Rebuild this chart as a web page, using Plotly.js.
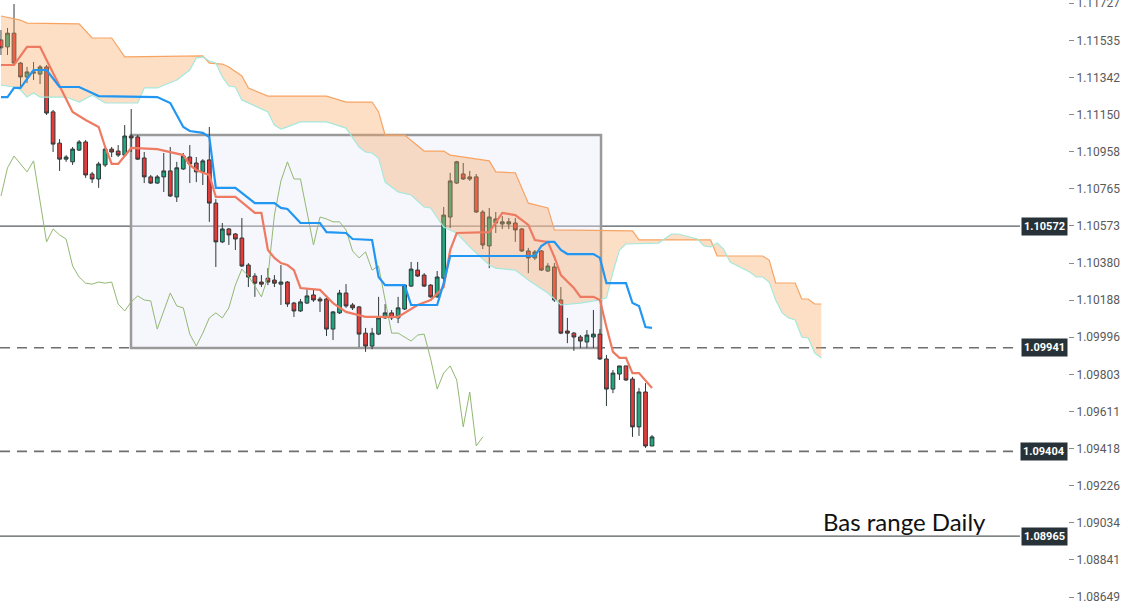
<!DOCTYPE html>
<html>
<head>
<meta charset="utf-8">
<script src="https://cdn.plot.ly/plotly-3.0.1.min.js"></script>
<style>html,body{margin:0;padding:0;background:#fff;}#chart{width:1128px;height:613px;}</style>
</head>
<body>
<div id="chart"></div>
<script>
// Daily candles (oldest -> newest)
const open = [1.11537,1.11501,1.11572,1.11417,1.11345,1.11365,1.11360,1.11397,1.11164,1.11002,
1.10919,1.10905,1.10966,1.11008,1.10842,1.10816,1.10889,1.10971,1.10961,1.10940,
1.11039,1.11034,1.10925,1.10827,1.10795,1.10827,1.10858,1.10723,1.10868,1.10930,
1.10899,1.10853,1.10915,1.10691,1.10490,1.10557,1.10531,1.10510,1.10370,1.10313,
1.10282,1.10302,1.10292,1.10271,1.10282,1.10173,1.10132,1.10173,1.10215,1.10194,
1.10194,1.10038,1.10122,1.10225,1.10163,1.10153,1.10017,1.09950,1.10012,1.10096,
1.10122,1.10096,1.10142,1.10261,1.10344,1.10318,1.10266,1.10205,1.10302,1.10619,
1.10795,1.10842,1.10827,1.10827,1.10645,1.10469,1.10588,1.10583,1.10583,1.10588,
1.10557,1.10443,1.10407,1.10443,1.10339,1.10360,1.10189,1.10028,1.10017,1.09997,
1.09971,1.09997,1.10012,1.09883,1.09727,1.09805,1.09847,1.09779,1.09531,1.09712,
1.09432];
const high = [1.11588,1.11599,1.11723,1.11423,1.11397,1.11423,1.11407,1.11407,1.11174,1.11023,
1.10940,1.10982,1.11018,1.11018,1.10853,1.10905,1.10982,1.10982,1.10992,1.11096,
1.11179,1.11044,1.10956,1.10837,1.10837,1.10951,1.10982,1.10905,1.10951,1.10992,
1.10930,1.10919,1.11086,1.10712,1.10588,1.10562,1.10536,1.10614,1.10380,1.10328,
1.10318,1.10354,1.10318,1.10370,1.10287,1.10179,1.10194,1.10251,1.10241,1.10205,
1.10200,1.10132,1.10241,1.10271,1.10173,1.10158,1.10044,1.10044,1.10205,1.10168,
1.10137,1.10205,1.10271,1.10386,1.10386,1.10328,1.10271,1.10339,1.10671,1.10848,
1.10910,1.10899,1.10858,1.10842,1.10655,1.10666,1.10645,1.10624,1.10614,1.10614,
1.10562,1.10459,1.10448,1.10448,1.10380,1.10380,1.10256,1.10096,1.10023,1.10007,
1.10033,1.10137,1.10038,1.09904,1.09826,1.09847,1.09847,1.09790,1.09733,1.09758,
1.09489];
const low = [1.11459,1.11459,1.11407,1.11282,1.11313,1.11329,1.11308,1.11148,1.10956,1.10858,
1.10905,1.10889,1.10961,1.10822,1.10795,1.10770,1.10878,1.10930,1.10930,1.10930,
1.10956,1.10915,1.10795,1.10790,1.10790,1.10749,1.10723,1.10697,1.10863,1.10795,
1.10800,1.10785,1.10594,1.10360,1.10484,1.10474,1.10448,1.10360,1.10256,1.10205,
1.10256,1.10266,1.10256,1.10163,1.10153,1.10101,1.10127,1.10168,1.10179,1.10127,
1.10002,1.09981,1.10116,1.10148,1.10137,1.09945,1.09920,1.09934,1.10007,1.10091,
1.10085,1.10069,1.10137,1.10256,1.10308,1.10256,1.10200,1.10200,1.10276,1.10562,
1.10790,1.10811,1.10806,1.10640,1.10453,1.10354,1.10536,1.10557,1.10557,1.10490,
1.10438,1.10328,1.10396,1.10339,1.10334,1.10179,1.10012,1.09965,1.09925,1.09940,
1.09940,1.09940,1.09878,1.09639,1.09706,1.09774,1.09769,1.09479,1.09484,1.09422,
1.09432];
const close = [1.11496,1.11572,1.11417,1.11345,1.11371,1.11371,1.11397,1.11158,1.10997,1.10919,
1.10930,1.10971,1.11008,1.10837,1.10816,1.10894,1.10971,1.10956,1.10940,1.11039,
1.11029,1.10919,1.10827,1.10795,1.10827,1.10858,1.10728,1.10874,1.10935,1.10894,
1.10853,1.10910,1.10691,1.10490,1.10557,1.10526,1.10505,1.10365,1.10308,1.10276,
1.10271,1.10282,1.10276,1.10282,1.10168,1.10132,1.10179,1.10210,1.10189,1.10184,
1.10038,1.10127,1.10225,1.10158,1.10148,1.10012,1.09950,1.10017,1.10096,1.10122,
1.10096,1.10148,1.10266,1.10349,1.10313,1.10261,1.10205,1.10308,1.10629,1.10806,
1.10905,1.10816,1.10816,1.10645,1.10474,1.10619,1.10609,1.10594,1.10594,1.10552,
1.10443,1.10407,1.10438,1.10344,1.10365,1.10189,1.10017,1.10017,1.09997,1.09976,
1.10007,1.10012,1.09883,1.09727,1.09810,1.09847,1.09774,1.09531,1.09712,1.09432,
1.09479];

// Ichimoku lines (bar index -> price)
const tenkanIdx = [0,2,4,6,7,11,13,15,16,17,18,20,24,28,29,30,31,32,33,36,39,40,41,42,43,44,45,46,49,51,53,56,61,62,64,66,68,69,70,75,77,79,81,82,84,85,86,88,89,91,92,93,94,95,96,97,98,100];
const tenkanVal = [1.11407,1.11407,1.11501,1.11501,1.11433,1.11164,1.11122,1.11086,1.10982,1.10894,1.10894,1.10977,1.10971,1.10940,1.10889,1.10863,1.10848,1.10837,1.10723,1.10723,1.10640,1.10640,1.10448,1.10407,1.10380,1.10370,1.10344,1.10251,1.10241,1.10173,1.10127,1.10101,1.10101,1.10122,1.10163,1.10189,1.10256,1.10448,1.10536,1.10541,1.10640,1.10629,1.10578,1.10500,1.10490,1.10412,1.10318,1.10251,1.10205,1.10205,1.10189,1.10049,1.09920,1.09889,1.09889,1.09810,1.09810,1.09733];

const kijunIdx = [0,1,2,3,5,7,9,12,14,15,24,25,26,28,29,31,32,33,36,39,42,43,44,46,49,50,53,54,57,58,59,62,63,67,68,69,82,83,84,85,86,87,91,92,93,96,97,98,99,100];
const kijunVal = [1.11241,1.11241,1.11288,1.11288,1.11381,1.11381,1.11293,1.11293,1.11262,1.11246,1.11241,1.11226,1.11210,1.11086,1.11065,1.11055,1.11034,1.10770,1.10770,1.10691,1.10691,1.10666,1.10661,1.10588,1.10588,1.10541,1.10536,1.10505,1.10500,1.10308,1.10266,1.10266,1.10163,1.10163,1.10276,1.10417,1.10417,1.10469,1.10490,1.10490,1.10448,1.10427,1.10427,1.10407,1.10276,1.10276,1.10173,1.10158,1.10049,1.10044];

const spanBIdx = [0,3,4,12,14,17,19,31,32,34,35,37,38,41,50,53,57,58,59,62,65,68,69,75,76,79,81,84,85,97,98,109,110,117,118,119,122,123,124,125,126];
const spanBVal = [1.11661,1.11640,1.11624,1.11620,1.11547,1.11547,1.11449,1.11454,1.11417,1.11412,1.11397,1.11350,1.11288,1.11246,1.11246,1.11215,1.11215,1.11164,1.11044,1.11044,1.10961,1.10961,1.10940,1.10910,1.10853,1.10848,1.10691,1.10666,1.10552,1.10547,1.10500,1.10500,1.10417,1.10417,1.10396,1.10277,1.10277,1.10194,1.10194,1.10168,1.10168];

const spanAIdx = [0,2,3,4,5,6,10,12,14,16,21,22,24,27,29,30,31,32,33,34,35,36,37,41,42,43,44,46,50,53,55,56,57,58,59,61,63,65,66,68,70,72,75,76,79,81,84,86,89,92,93,94,95,96,101,103,104,107,108,109,110,111,112,115,116,117,118,119,120,121,122,123,124,125,126];
const spanAVal = [1.11303,1.11293,1.11277,1.11241,1.11262,1.11241,1.11241,1.11215,1.11251,1.11210,1.11210,1.11288,1.11288,1.11329,1.11381,1.11443,1.11449,1.11428,1.11417,1.11345,1.11298,1.11293,1.11226,1.11164,1.11096,1.11075,1.11086,1.11112,1.11112,1.11080,1.10982,1.10956,1.10951,1.10925,1.10800,1.10749,1.10733,1.10671,1.10666,1.10567,1.10536,1.10464,1.10370,1.10354,1.10344,1.10292,1.10225,1.10163,1.10173,1.10189,1.10200,1.10334,1.10448,1.10479,1.10484,1.10531,1.10531,1.10505,1.10469,1.10464,1.10484,1.10453,1.10386,1.10334,1.10308,1.10308,1.10282,1.10189,1.10122,1.10096,1.10085,1.09997,1.09992,1.09914,1.09889];

const chikouShift = 26;
const levels = [1.10572, 1.09941, 1.09404, 1.08965];
const levelDash = ['solid', 'dash', 'dash', 'solid'];
const levelLabels = ['1.10572', '1.09941', '1.09404', '1.08965'];
const tickVals = [1.11727,1.11535,1.11342,1.11150,1.10958,1.10765,1.10573,1.10380,1.10188,1.09996,1.09803,1.09611,1.09418,1.09226,1.09034,1.08841,1.08649];
const tickText = ['1.11727','1.11535','1.11342','1.11150','1.10958','1.10765','1.10573','1.10380','1.10188','1.09996','1.09803','1.09611','1.09418','1.09226','1.09034','1.08841','1.08649'];
const noteText = 'Bas range Daily';

const barIdx = open.map((_, i) => i);
const chX = [], chY = [];
for (let i = 0; i + chikouShift < close.length; i++) { chX.push(i); chY.push(close[i + chikouShift]); }

const traces = [
  {type:'candlestick', x:barIdx, open:open, high:high, low:low, close:close,
   increasing:{line:{color:'#2f3a3a', width:1}, fillcolor:'#1fa67f'},
   decreasing:{line:{color:'#2f3a3a', width:1}, fillcolor:'#e63b3b'},
   whiskerwidth:0, hoverinfo:'skip', showlegend:false},
  {type:'scatter', mode:'lines', x:spanBIdx, y:spanBVal, line:{color:'#f7a463', width:1.2}, hoverinfo:'skip', showlegend:false},
  {type:'scatter', mode:'lines', x:spanAIdx, y:spanAVal, line:{color:'#a5e8dc', width:1.2}, fill:'tonexty', fillcolor:'rgba(248,165,95,0.36)', hoverinfo:'skip', showlegend:false},
  {type:'scatter', mode:'lines', x:chX, y:chY, line:{color:'#93b872', width:1}, hoverinfo:'skip', showlegend:false},
  {type:'scatter', mode:'lines', x:tenkanIdx, y:tenkanVal, line:{color:'#ee7a62', width:2.2}, hoverinfo:'skip', showlegend:false},
  {type:'scatter', mode:'lines', x:kijunIdx, y:kijunVal, line:{color:'#2196f3', width:2.2}, hoverinfo:'skip', showlegend:false}
];

const shapes = [
  {type:'rect', xref:'x', yref:'y', x0:19.97, x1:92.17, y0:1.09940, y1:1.11044,
   line:{color:'#9a9a9a', width:2.5}, fillcolor:'rgba(232,232,250,0.4)', layer:'below'}
];
const annotations = [];
levels.forEach((lv, k) => {
  shapes.push({type:'line', xref:'paper', yref:'y', x0:0, x1:0.955, y0:lv, y1:lv,
    line:{color: levelDash[k] === 'dash' ? '#6f6f6f' : '#555b5e', width: levelDash[k] === 'dash' ? 1.6 : 1.2,
          dash: levelDash[k] === 'dash' ? '10px,7px' : 'solid'}, layer:'below'});
  annotations.push({xref:'paper', yref:'y', x:1, y:lv, xanchor:'right', yanchor:'middle',
    text:'<b>' + levelLabels[k] + '</b>', showarrow:false, bgcolor:'#263238',
    font:{family:'Roboto', size:11, color:'#ffffff'}, borderpad:2});
});
annotations.push({xref:'paper', yref:'y', x:0.847, y:1.09040, xanchor:'center', yanchor:'middle',
  text:noteText, showarrow:false, font:{family:'Lato', size:24, color:'#111111'}});

const layout = {
  width:1128, height:613,
  margin:{l:0, r:60, t:0, b:0},
  paper_bgcolor:'#ffffff', plot_bgcolor:'#ffffff',
  showlegend:false,
  boxgap:0.18,
  xaxis:{range:[-0.154, 163.9], visible:false, rangeslider:{visible:false}, fixedrange:true},
  yaxis:{range:[1.085662, 1.11744], side:'right', tickmode:'array', tickvals:tickVals, ticktext:tickText,
         ticks:'outside', ticklen:5, tickcolor:'#8a8a8a', tickfont:{family:'Roboto', size:12, color:'#5a5a5a'},
         ticklabeloverflow:'allow', automargin:false,
         showgrid:false, zeroline:false, showline:false, fixedrange:true},
  shapes:shapes, annotations:annotations
};
Plotly.newPlot('chart', traces, layout, {staticPlot:true, displayModeBar:false});
</script>
</body>
</html>
